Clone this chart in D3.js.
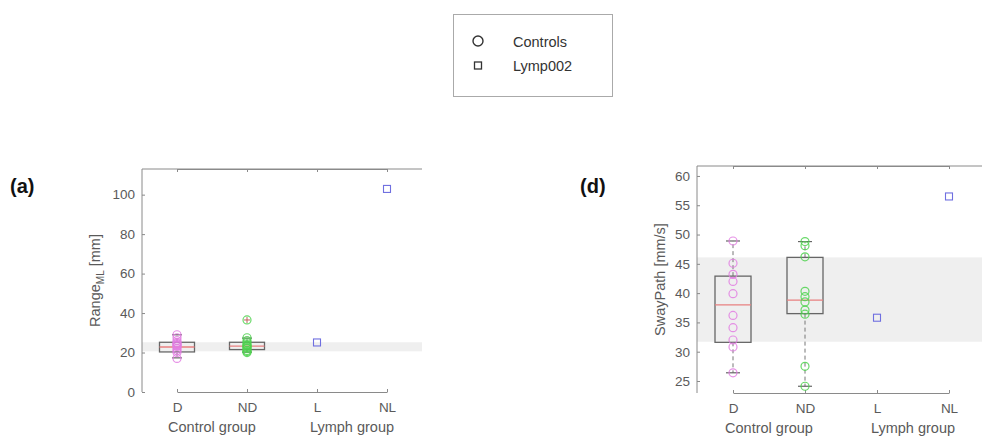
<!DOCTYPE html>
<html><head><meta charset="utf-8">
<script src="https://cdn.jsdelivr.net/npm/d3@7"></script>
<style>body{margin:0;background:#fff}svg{display:block;font-family:"Liberation Sans",Arial,sans-serif}</style>
</head><body><svg id="c" width="982" height="436"></svg>
<script>
const categories = ["D","ND","L","NL"];
const groupLabels = ["Control group","Lymph group"];
const legendLabels = ["Controls","Lymp002"];

// Panel (a): Range_ML [mm]
const rangeTicks = [0,20,40,60,80,100];
const rangeD = [29, 27.5, 26, 25, 24.5, 24, 23.5, 23, 22, 21, 20, 17];
const rangeND = [27.5, 26, 25, 24, 23.5, 23, 22.5, 22, 21, 20.5, 20];
const rangeOutND = [36.5];
const rangeBoxD = [17.3, 20.3, 22.8, 25.2, 29];   // lw, q1, med, q3, uw
const rangeBoxND = [20.2, 21.5, 23.2, 25.2, 27.3];
const rangeLymph = [25.1, 102.9];                 // L, NL
const rangeBand = [20.6, 25.2];

// Panel (d): SwayPath [mm/s]
const swayTicks = [25,30,35,40,45,50,55,60];
const swayD = [48.9, 45.1, 43.2, 42.0, 39.9, 36.2, 34.1, 32.0, 30.8, 26.4];
const swayND = [48.8, 48.1, 46.2, 40.3, 39.4, 38.5, 37.1, 36.4, 27.5, 24.1];
const swayBoxD = [26.4, 31.6, 38.0, 42.9, 48.9];
const swayBoxND = [24.1, 36.5, 38.8, 46.1, 48.8];
const swayLymph = [35.8, 56.5];
const swayBand = [31.7, 46.1];

const svg = d3.select("#c");
const axisCol = "#8a8a8a", textCol = "#5a5a5a";
const colD = "#e27ee2", colND = "#4fd24f", colL = "#6f6fe0";

function panel(o){
  const g = svg.append("g");
  const x = d3.scalePoint().domain(categories).range([o.x0 + o.step/2, o.x1 - o.step/2]);
  const y = d3.scaleLinear().domain(o.ydom).range([o.y1, o.y0]);
  g.append("rect").attr("x", o.x0).attr("width", o.x1 - o.x0)
    .attr("y", y(o.band[1])).attr("height", y(o.band[0]) - y(o.band[1])).attr("fill", "#efefef");
  g.append("line").attr("x1",o.x0).attr("x2",o.x1).attr("y1",o.y0).attr("y2",o.y0).attr("stroke",axisCol);
  const xa = g.append("g").attr("transform",`translate(0,${o.y1})`)
    .call(d3.axisBottom(x).tickSizeInner(-3).tickSizeOuter(0).tickPadding(10));
  const xt = g.append("g").attr("transform",`translate(0,${o.y0})`)
    .call(d3.axisTop(x).tickSizeInner(-3).tickSizeOuter(0).tickFormat(""));
  const ya = g.append("g").attr("transform",`translate(${o.x0},0)`)
    .call(d3.axisLeft(y).tickValues(o.ticks).tickSizeInner(-3).tickSizeOuter(0).tickPadding(7));
  [xa,xt,ya].forEach(a=>{
    a.selectAll("path").attr("stroke",axisCol);
    a.selectAll("line").attr("stroke",axisCol);
    a.selectAll("text").attr("fill",textCol).attr("font-size",13.5);
  });
  ya.select("path").attr("d",`M0,${o.y0}V${o.y1}`);
  groupLabels.forEach((t,i)=>{
    const cx = (x(categories[2*i]) + x(categories[2*i+1]))/2;
    g.append("text").attr("x",cx).attr("y",o.y1+40).attr("text-anchor","middle")
      .attr("fill",textCol).attr("font-size",14.5).text(t);
  });
  const yl = g.append("text").attr("transform",`translate(${o.ylx},${(o.y0+o.y1)/2}) rotate(-90)`)
    .attr("text-anchor","middle").attr("fill",textCol).attr("font-size",14.5);
  o.ylabel(yl);
  g.append("text").attr("x",o.px).attr("y",193).attr("font-size",20).attr("font-weight","bold")
    .attr("fill","#111").text(o.plabel);

  const bw = o.step/2;
  function box(cat, st, pts, col, outs){
    const cx = x(cat);
    g.append("line").attr("x1",cx).attr("x2",cx).attr("y1",y(st[3])).attr("y2",y(st[4]))
      .attr("stroke","#777").attr("stroke-dasharray","4,3");
    g.append("line").attr("x1",cx).attr("x2",cx).attr("y1",y(st[1])).attr("y2",y(st[0]))
      .attr("stroke","#777").attr("stroke-dasharray","4,3");
    [st[0],st[4]].forEach(v=>g.append("line").attr("x1",cx-o.cap).attr("x2",cx+o.cap)
      .attr("y1",y(v)).attr("y2",y(v)).attr("stroke","#666").attr("stroke-width",1.2));
    g.append("rect").attr("x",cx-bw/2).attr("width",bw).attr("y",y(st[3]))
      .attr("height",y(st[1])-y(st[3])).attr("fill","none").attr("stroke","#666").attr("stroke-width",1.3);
    g.append("line").attr("x1",cx-bw/2).attr("x2",cx+bw/2).attr("y1",y(st[2])).attr("y2",y(st[2]))
      .attr("stroke","#e88080").attr("stroke-width",1.3);
    (outs||[]).forEach(v=>{
      g.append("path").attr("d",`M${cx-3},${y(v)}h6M${cx},${y(v)-3}v6`).attr("stroke","#c06060");
    });
    pts.concat(outs||[]).forEach(v=>g.append("circle").attr("cx",cx).attr("cy",y(v)).attr("r",4)
      .attr("fill","none").attr("stroke",col).attr("stroke-width",1.2).attr("stroke-opacity",0.85));
  }
  box("D", o.boxD, o.ptsD, colD, []);
  box("ND", o.boxND, o.ptsND, colND, o.outND);
  ["L","NL"].forEach((c,i)=>{
    g.append("rect").attr("x",x(c)-3.5).attr("y",y(o.lymph[i])-3.5).attr("width",7).attr("height",7)
      .attr("fill","none").attr("stroke",colL).attr("stroke-width",1.1);
  });
}

panel({x0:142,x1:422,y0:169,y1:392,step:70,ydom:[0,113],ticks:rangeTicks,band:rangeBand,
  ylx:100, px:10, plabel:"(a)", cap:5,
  ylabel:t=>{t.append("tspan").text("Range");t.append("tspan").attr("font-size",10).attr("dy",4).text("ML");
    t.append("tspan").attr("dy",-4).text(" [mm]");},
  boxD:rangeBoxD, boxND:rangeBoxND, ptsD:rangeD, ptsND:rangeND, outND:rangeOutND, lymph:rangeLymph});

panel({x0:697,x1:985,y0:166,y1:393,step:72,ydom:[22.95,61.7],ticks:swayTicks,band:swayBand,
  ylx:665, px:580, plabel:"(d)", cap:7,
  ylabel:t=>t.text("SwayPath [mm/s]"),
  boxD:swayBoxD, boxND:swayBoxND, ptsD:swayD, ptsND:swayND, outND:[], lymph:swayLymph});

const lg = svg.append("g");
lg.append("rect").attr("x",453.5).attr("y",14.5).attr("width",159).attr("height",82)
  .attr("fill","#fff").attr("stroke","#aaa");
lg.append("circle").attr("cx",478).attr("cy",41).attr("r",5).attr("fill","none").attr("stroke","#333").attr("stroke-width",1.4);
lg.append("rect").attr("x",474.5).attr("y",62).attr("width",7).attr("height",7).attr("fill","none").attr("stroke","#333").attr("stroke-width",1.3);
legendLabels.forEach((t,i)=>lg.append("text").attr("x",513).attr("y",47+i*24).attr("font-size",14.5)
  .attr("fill","#333").text(t));
</script></body></html>
